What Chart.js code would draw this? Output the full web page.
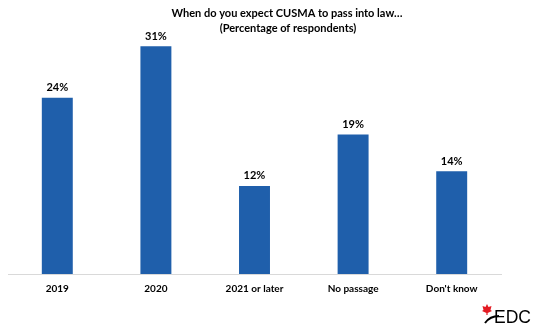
<!DOCTYPE html>
<html>
<head>
<meta charset="utf-8">
<script src="https://cdn.jsdelivr.net/npm/chart.js@4"></script>
<style>
  html, body { margin: 0; padding: 0; background: #fff; }
  #chart { display: block; }
</style>
</head>
<body>
<canvas id="chart" width="540" height="332"></canvas>
<script>
const categories = ['2019', '2020', '2021 or later', 'No passage', "Don't know"];
const shares = [24, 31, 12, 19, 14];
const titleLines = ['When do you expect CUSMA to pass into law\u2026', '(Percentage of respondents)'];

const FONT = 'Lato, "Open Sans", sans-serif';
const BAR_BLUE = '#1f5fab';

// title drawn by hand, it sits off-centre in the original
const titlePlugin = {
    id: 'offTitle',
    afterDraw(chart) {
        const ctx = chart.ctx;
        ctx.save();
        ctx.fillStyle = '#000';
        ctx.font = 'bold 11px ' + FONT;
        ctx.textAlign = 'center';
        ctx.textBaseline = 'middle';
        ctx.fillText(titleLines[0], 287, 13);
        ctx.fillText(titleLines[1], 288, 28);
        ctx.restore();
    }
};

// percentage above each bar
const valueLabels = {
    id: 'valueLabels',
    afterDatasetsDraw(chart) {
        const ctx = chart.ctx;
        const meta = chart.getDatasetMeta(0);
        ctx.save();
        ctx.fillStyle = '#000';
        ctx.font = 'bold 11px ' + FONT;
        ctx.textAlign = 'center';
        ctx.textBaseline = 'middle';
        meta.data.forEach((bar, i) => {
            ctx.fillText(shares[i] + '%', bar.x, bar.y - 10);
        });
        ctx.restore();
    }
};

// EDC logo, bottom right
const logoPlugin = {
    id: 'edcLogo',
    afterDraw(chart) {
        const ctx = chart.ctx;
        ctx.save();
        // maple leaf (rough)
        ctx.fillStyle = '#e31b23';
        ctx.beginPath();
        const lx = 487, ly = 309;
        ctx.moveTo(lx, ly - 5);
        ctx.lineTo(lx + 1.5, ly - 2);
        ctx.lineTo(lx + 4.5, ly - 3);
        ctx.lineTo(lx + 3.5, ly + 1);
        ctx.lineTo(lx + 5, ly + 2);
        ctx.lineTo(lx + 0.6, ly + 4);
        ctx.lineTo(lx + 0.6, ly + 6);
        ctx.lineTo(lx - 0.6, ly + 6);
        ctx.lineTo(lx - 0.6, ly + 4);
        ctx.lineTo(lx - 5, ly + 2);
        ctx.lineTo(lx - 3.5, ly + 1);
        ctx.lineTo(lx - 4.5, ly - 3);
        ctx.lineTo(lx - 1.5, ly - 2);
        ctx.closePath();
        ctx.fill();
        // swoosh
        ctx.strokeStyle = '#000';
        ctx.lineWidth = 2;
        ctx.beginPath();
        ctx.moveTo(485, 323);
        ctx.quadraticCurveTo(490, 316, 499, 316);
        ctx.stroke();
        ctx.fillStyle = '#000';
        ctx.font = '17.5px "Liberation Sans", Arial, sans-serif';
        ctx.textAlign = 'left';
        ctx.textBaseline = 'alphabetic';
        ctx.fillText('EDC', 494, 323);
        ctx.restore();
    }
};

new Chart(document.getElementById('chart'), {
    type: 'bar',
    data: {
        labels: categories,
        datasets: [{
            data: shares,
            backgroundColor: BAR_BLUE,
            borderWidth: 0,
            categoryPercentage: 1,
            barPercentage: 0.314
        }]
    },
    options: {
        responsive: false,
        animation: false,
        devicePixelRatio: 1,
        layout: { padding: { top: 39, left: 8, right: 39, bottom: 28 } },
        plugins: {
            legend: { display: false },
            title: { display: false },
            tooltip: { enabled: false }
        },
        scales: {
            x: {
                grid: { display: false, drawTicks: false },
                border: { display: true, color: '#d9d9d9', width: 1 },
                ticks: {
                    color: '#000',
                    padding: 9,
                    font: { family: FONT, size: 10, weight: 'bold' }
                }
            },
            y: {
                display: false,
                min: 0,
                max: 32
            }
        }
    },
    plugins: [titlePlugin, valueLabels, logoPlugin]
});
</script>
</body>
</html>
